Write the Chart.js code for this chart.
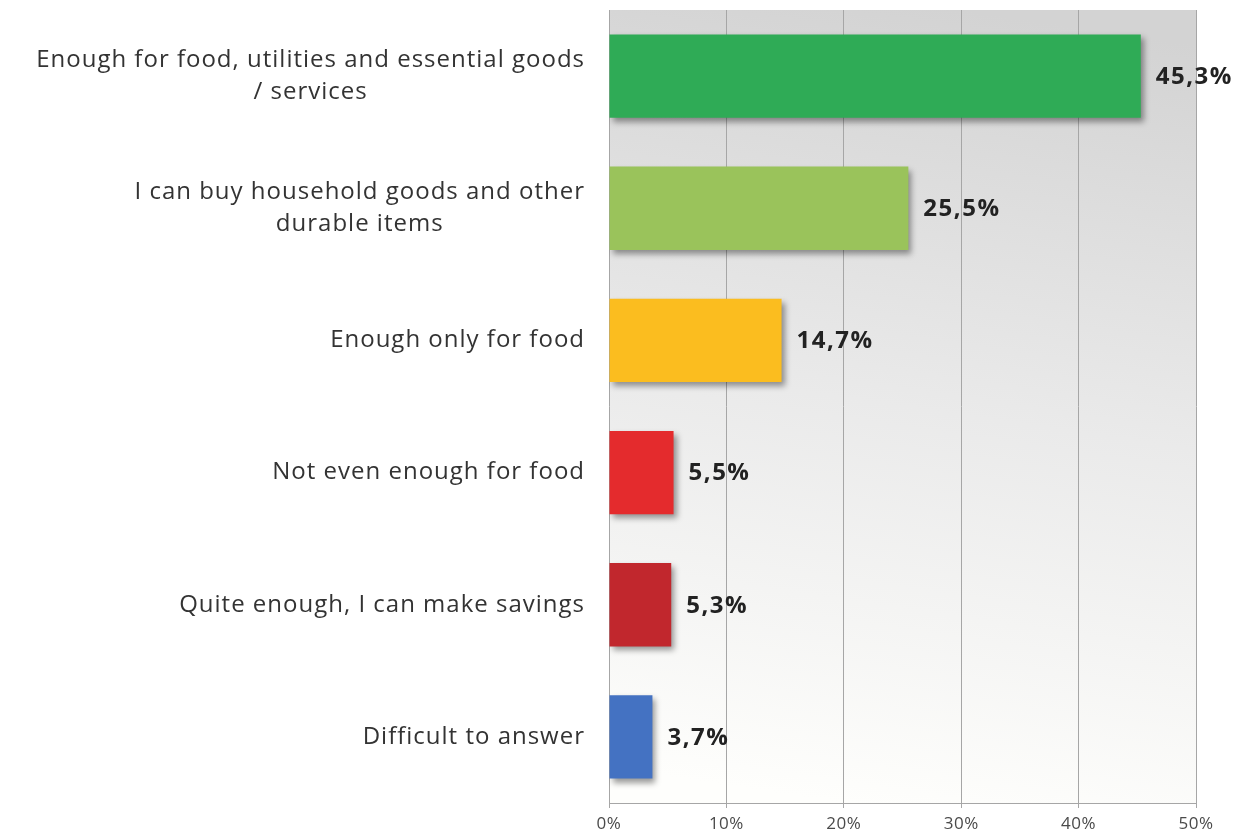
<!DOCTYPE html>
<html>
<head>
<meta charset="utf-8">
<script src="https://cdn.jsdelivr.net/npm/chart.js@4/dist/chart.umd.min.js"></script>
<style>
  html, body { margin: 0; padding: 0; background: #ffffff; }
  #wrap { width: 1242px; height: 840px; }
</style>
</head>
<body>
<div id="wrap"><canvas id="c" width="1242" height="840"></canvas></div>
<script>
const categories = [
  ["Enough for food, utilities and essential goods", "/ services"],
  ["I can buy household goods and other", "durable items"],
  ["Enough only for food"],
  ["Not even enough for food"],
  ["Quite enough, I can make savings"],
  ["Difficult to answer"]
];
const values = [45.3, 25.5, 14.7, 5.5, 5.3, 3.7];
const valueLabels = ["45,3%", "25,5%", "14,7%", "5,5%", "5,3%", "3,7%"];
const barColors = ["#2fab56", "#9ac35b", "#fbbd1f", "#e42b2d", "#c1272d", "#4472c2"];
const xTicks = [0, 10, 20, 30, 40, 50];

const FONT = "'Open Sans', 'DejaVu Sans', sans-serif";

const bgPlugin = {
  id: 'bg',
  beforeDraw(chart) {
    const { ctx, chartArea: a } = chart;
    const w = a.right - a.left;
    const g = ctx.createLinearGradient(a.left + w * 0.6, a.top, a.left + w * 0.4, a.bottom);
    g.addColorStop(0, '#d3d3d3');
    g.addColorStop(0.5, '#eaeaea');
    g.addColorStop(1, '#fefefc');
    ctx.save();
    ctx.fillStyle = g;
    ctx.fillRect(a.left, a.top, w, a.bottom - a.top);
    ctx.restore();
    ctx.letterSpacing = '0.5px';
  }
};

const shadowPlugin = {
  id: 'shadow',
  beforeDatasetsDraw(chart) {
    const ctx = chart.ctx;
    ctx.save();
    ctx.shadowColor = 'rgba(0,0,0,0.4)';
    ctx.shadowBlur = 6;
    ctx.shadowOffsetX = 3;
    ctx.shadowOffsetY = 4;
  },
  afterDatasetsDraw(chart) {
    const ctx = chart.ctx;
    ctx.restore();
    const meta = chart.getDatasetMeta(0);
    ctx.save();
    ctx.font = "bold 24px " + FONT;
    ctx.letterSpacing = '1.5px';
    ctx.fillStyle = '#222222';
    ctx.textAlign = 'left';
    ctx.textBaseline = 'middle';
    meta.data.forEach((bar, i) => {
      ctx.fillText(valueLabels[i], bar.x + 15, bar.y + 1);
    });
    ctx.restore();
  }
};

const yLabelPlugin = {
  id: 'ylabels',
  afterDraw(chart) {
    const { ctx } = chart;
    const ys = chart.scales.y;
    const rightEdge = 585;
    const lineH = 32;
    ctx.save();
    ctx.font = "24px " + FONT;
    ctx.letterSpacing = '1px';
    ctx.fillStyle = '#333333';
    ctx.textBaseline = 'middle';
    categories.forEach((lines, i) => {
      const y = ys.getPixelForValue(i);
      const widths = lines.map(l => ctx.measureText(l).width);
      const maxW = Math.max(...widths);
      const cx = rightEdge - maxW / 2;
      const y0 = y - (lines.length - 1) * lineH / 2;
      lines.forEach((l, k) => {
        ctx.textAlign = lines.length > 1 ? 'center' : 'right';
        ctx.fillText(l, lines.length > 1 ? cx : rightEdge, y0 + k * lineH);
      });
    });
    ctx.restore();
  }
};

new Chart(document.getElementById('c'), {
  type: 'bar',
  data: {
    labels: categories,
    datasets: [{
      data: values,
      backgroundColor: barColors,
      borderWidth: 0,
      barPercentage: 0.63,
      categoryPercentage: 1.0
    }]
  },
  options: {
    indexAxis: 'y',
    responsive: false,
    animation: false,
    layout: { padding: { top: 10, right: 46, left: 0, bottom: 0 } },
    plugins: { legend: { display: false }, tooltip: { enabled: false } },
    scales: {
      x: {
        min: 0, max: 50,
        afterBuildTicks(scale) { scale.ticks = xTicks.map(v => ({ value: v })); },
        afterFit(scale) { scale.height = 37; },
        ticks: {
          callback: v => v + '%',
          color: '#4a4a4a',
          font: { family: FONT, size: 17 },
          padding: 6,
          maxRotation: 0
        },
        grid: { color: '#a6a6a6', lineWidth: 1, drawTicks: true, tickLength: 5, tickColor: '#a6a6a6' },
        border: { display: true, color: '#a6a6a6' }
      },
      y: {
        afterFit(scale) { scale.width = 609; },
        ticks: { display: false },
        grid: { display: false },
        border: { display: false }
      }
    }
  },
  plugins: [bgPlugin, shadowPlugin, yLabelPlugin]
});
</script>
</body>
</html>
